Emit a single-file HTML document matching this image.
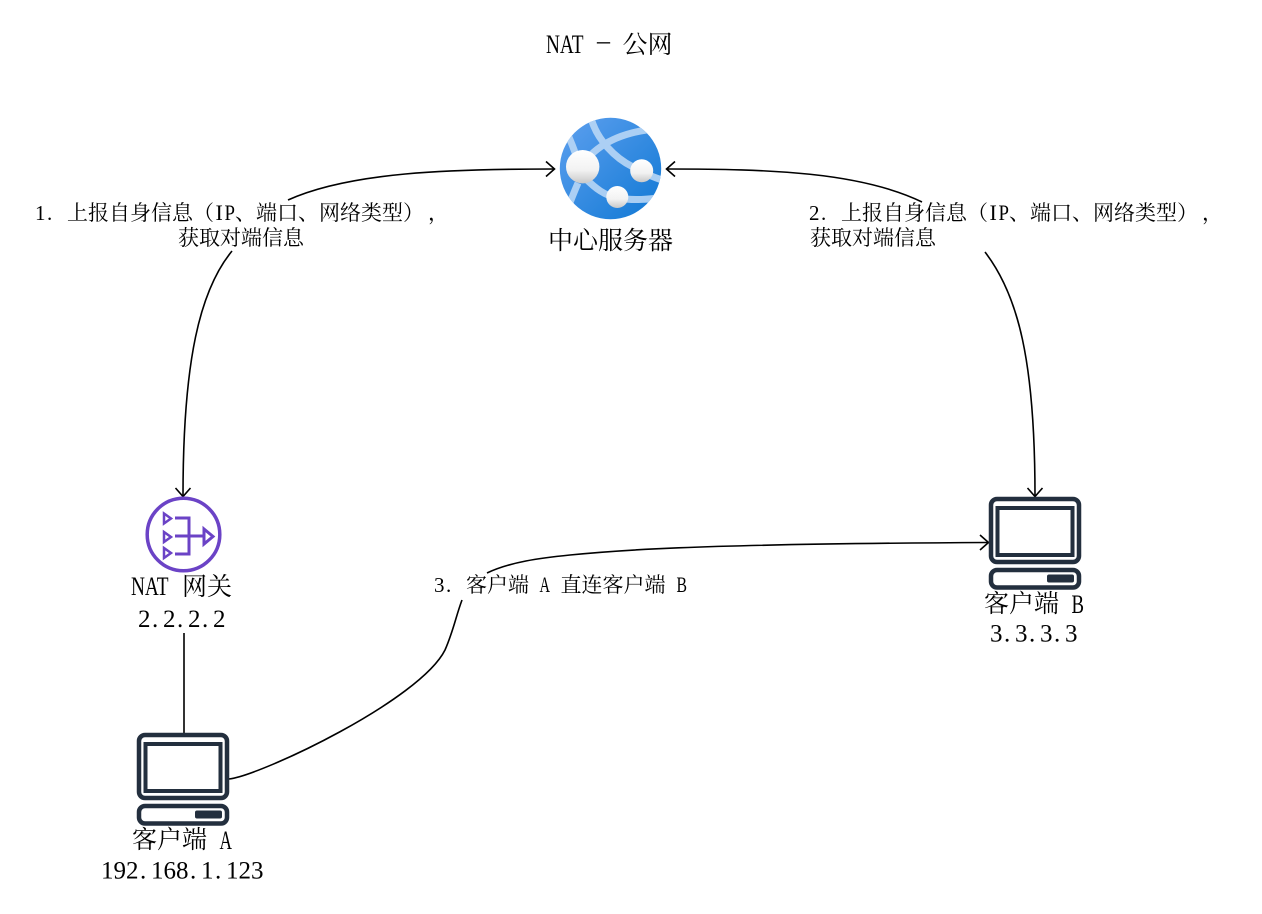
<!DOCTYPE html>
<html><head><meta charset="utf-8"><style>
html,body{margin:0;padding:0;background:#fff}
svg{display:block}
text{fill:#000;text-spacing-trim:space-all}
.c{font-family:"Noto Serif CJK SC","Liberation Serif",serif;font-size:25px}
.k{font-family:"Noto Serif CJK SC","Liberation Serif",serif;font-size:21px}
.l{font-family:"Liberation Serif",serif;font-size:26px}
.d{font-family:"Liberation Serif",serif;font-size:25px}
.m{font-family:"Liberation Serif",serif;font-size:22px}
.n{font-family:"Liberation Serif",serif;font-size:21px}
</style></head><body>
<svg width="1262" height="914" viewBox="0 0 1262 914" xmlns="http://www.w3.org/2000/svg">
<defs>
<linearGradient id="g" x1="0" y1="0" x2="1" y2="1"><stop offset="0" stop-color="#5ea0ef"/><stop offset="1" stop-color="#0f78d4"/></linearGradient>
<linearGradient id="w" x1="0" y1="0" x2="0" y2="1"><stop offset="0" stop-color="#fff"/><stop offset=".6" stop-color="#f2f2f2"/><stop offset="1" stop-color="#c8c8c8"/></linearGradient>
<clipPath id="cc"><circle cx="610.5" cy="168.5" r="50.7"/></clipPath>
<g id="pc" fill="none" stroke="#232f3e">
<rect x="139" y="735" width="88" height="63" rx="6" stroke-width="4.5"/>
<rect x="145.5" y="744" width="75" height="47" stroke-width="4"/>
<rect x="139" y="806" width="88" height="17.5" rx="6" stroke-width="4.5"/>
<rect x="195" y="810.500" width="27" height="8" rx="2" fill="#232f3e" stroke="none"/>
</g>
</defs>

<g fill="none" stroke="#000" stroke-width="1.600">
<path d="M554 169C450 169 350 172 288 200"/>
<path d="M232 251C200 290 183 360 183 496"/>
<path d="M667 169C770 169 860 172 922 202"/>
<path d="M985 252C1018 295 1035 360 1035 496"/>
<path d="M229 779C262 775 420 700 445 650C453 632 456 616 462 600"/>
<path d="M487 573C510 562 540 558 570 555C610 551 680 544 988 542.5"/>
<path d="M184 633V733"/>
<path d="M546 161.500L554.500 169L546 176.500M675 161.500L666.500 169L675 176.500M175.500 488L183 496.500L190.500 488M1027.500 488L1035 496.500L1042.500 488M980 535L988.500 542.500L980 550"/>
</g>

<circle cx="610.500" cy="168.500" r="50.700" fill="url(#g)"/>
<g clip-path="url(#cc)" fill="none" stroke="#b8d6f5" stroke-width="7" opacity=".9">
<path d="M591 118C597 140 615 158 633 167C645 174 655 178 668 182"/>
<path d="M578 172C590 150 615 130 668 128"/>
<path d="M566 130C570 140 575 150 579 165"/>
<path d="M578 183C575 190 572 197 568 208"/>
<path d="M585 178C595 188 605 196 618 198C635 201 650 199 668 197"/>
</g>
<circle cx="582.700" cy="166.700" r="16.700" fill="url(#w)"/>
<circle cx="641.700" cy="170.700" r="11.500" fill="url(#w)"/>
<circle cx="617.300" cy="197" r="11" fill="url(#w)"/>

<g fill="none" stroke="#6b43c6" stroke-width="3">
<circle cx="183.500" cy="534.500" r="36.300" stroke-width="3.500"/>
<path d="M164 513.500L171 518.500L164 523.500ZM164 532L171 537L164 542ZM164 548L171 553L164 558Z" stroke-width="2.500"/>
<path d="M175 518H189V554H175M175 536H204"/>
<path d="M204 529L213 536.500L204 544Z"/>
</g>

<use href="#pc"/>
<use href="#pc" transform="translate(852,-236)"/>

<!-- title -->
<text x="546" y="53" class="l" textLength="37.5" lengthAdjust="spacingAndGlyphs">NAT</text>
<text x="597" y="49" class="l" textLength="13" lengthAdjust="spacingAndGlyphs">–</text>
<text x="622.500" y="53" class="c">公网</text>

<text x="548" y="249" class="c">中心服务器</text>

<!-- NAT gateway -->
<text x="131" y="595" class="l" textLength="37.5" lengthAdjust="spacingAndGlyphs">NAT</text>
<text x="182" y="595" class="c">网关</text>
<text x="138 152 163 177 188 202 213" y="627" class="d">2.2.2.2</text>

<!-- client A -->
<text x="132" y="848" class="c">客户端</text>
<text x="219.500" y="849" class="l" textLength="12.5" lengthAdjust="spacingAndGlyphs">A</text>
<text x="101 113.5 126 140 151 163.5 176 190 201 215 226 238.5 251" y="878.500" class="d">192.168.1.123</text>

<!-- client B -->
<text x="984" y="612" class="c">客户端</text>
<text x="1071.500" y="613" class="l" textLength="12.5" lengthAdjust="spacingAndGlyphs">B</text>
<text x="990 1004 1015 1029 1040 1054 1065" y="641.500" class="d">3.3.3.3</text>

<!-- label 1 -->
<text x="35 47" y="220" class="n">1.</text>
<text x="67" y="220" class="k">上报自身信息</text>
<text x="193" y="220" class="k">（</text>
<text x="215.500" y="220" class="m">I</text>
<text x="224.500" y="220" class="m" textLength="10.5" lengthAdjust="spacingAndGlyphs">P</text>
<text x="235" y="220" class="k">、</text>
<text x="256" y="220" class="k">端口</text>
<text x="298" y="220" class="k">、</text>
<text x="319" y="220" class="k">网络类型</text>
<text x="403" y="220" class="k">）</text>
<text x="428" y="220" class="k">，</text>
<text x="178" y="245" class="k">获取对端信息</text>

<!-- label 2 -->
<text x="809 821" y="220" class="n">2.</text>
<text x="841" y="220" class="k">上报自身信息</text>
<text x="967" y="220" class="k">（</text>
<text x="989.500" y="220" class="m">I</text>
<text x="998.500" y="220" class="m" textLength="10.5" lengthAdjust="spacingAndGlyphs">P</text>
<text x="1009" y="220" class="k">、</text>
<text x="1030" y="220" class="k">端口</text>
<text x="1072" y="220" class="k">、</text>
<text x="1093" y="220" class="k">网络类型</text>
<text x="1177" y="220" class="k">）</text>
<text x="1202" y="220" class="k">，</text>
<text x="810" y="245" class="k">获取对端信息</text>

<!-- label 3 -->
<text x="434 446" y="592" class="n">3.</text>
<text x="466" y="592" class="k">客户端</text>
<text x="539.500" y="592" class="m" textLength="10.5" lengthAdjust="spacingAndGlyphs">A</text>
<text x="560.500" y="592" class="k">直连客户端</text>
<text x="676.500" y="592" class="m" textLength="10.5" lengthAdjust="spacingAndGlyphs">B</text>
</svg>
</body></html>
